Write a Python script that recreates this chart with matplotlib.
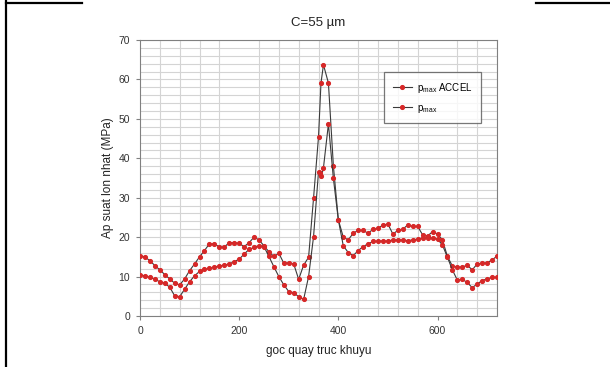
import matplotlib
matplotlib.use("Agg")
import matplotlib.pyplot as plt
from matplotlib.lines import Line2D
from matplotlib.ticker import MultipleLocator

plt.rcParams['font.family'] = ['Liberation Sans', 'DejaVu Sans']
plt.rcParams['mathtext.fontset'] = 'custom'
plt.rcParams['mathtext.rm'] = 'Liberation Sans'

# goc quay (do)
goc_accel = [0, 10, 20, 30, 40, 50, 60, 70, 80, 90, 100, 110, 120, 130, 140, 150,
             160, 170, 180, 190, 200, 210, 220, 230, 240, 250, 260, 270, 280, 290,
             300, 310, 320, 330, 340, 350, 360, 365, 370, 380, 390, 400, 410, 420,
             430, 440, 450, 460, 470, 480, 490, 500, 510, 520, 530, 540, 550, 560,
             570, 580, 590, 600, 610, 620, 630, 640, 650, 660, 670, 680, 690, 700,
             710, 720]
p_accel = [15.3, 15.0, 14.0, 12.8, 11.7, 10.5, 9.4, 8.3, 7.9, 9.4, 11.5, 13.2, 15.0,
           16.6, 18.3, 18.3, 17.5, 17.5, 18.6, 18.6, 18.4, 17.6, 18.6, 20.0, 19.3,
           17.8, 16.3, 15.1, 15.9, 13.4, 13.5, 13.2, 9.3, 12.9, 14.9, 29.9, 45.4,
           59.1, 63.7, 59.1, 38.1, 24.4, 20.0, 19.3, 21.0, 21.7, 21.7, 21.0, 22.0,
           22.2, 23.1, 23.3, 20.8, 21.7, 22.0, 23.1, 22.7, 22.7, 20.6, 20.3, 21.4,
           20.8, 19.3, 15.1, 12.7, 12.4, 12.4, 12.9, 11.7, 13.2, 13.4, 13.5, 14.2,
           15.2]

goc_pmax = [0, 10, 20, 30, 40, 50, 60, 70, 80, 90, 100, 110, 120, 130, 140, 150,
            160, 170, 180, 190, 200, 210, 220, 230, 240, 250, 260, 270, 280, 290,
            300, 310, 320, 330, 340, 350, 360, 363, 366, 370, 380, 390, 400, 410,
            420, 430, 440, 450, 460, 470, 480, 490, 500, 510, 520, 530, 540, 550,
            560, 570, 580, 590, 600, 610, 620, 630, 640, 650, 660, 670, 680, 690,
            700, 710, 720]
p_max = [10.4, 10.2, 9.8, 9.3, 8.7, 8.3, 7.3, 5.1, 4.9, 6.8, 8.7, 10.2, 11.3, 11.8,
         12.1, 12.4, 12.7, 12.9, 13.2, 13.8, 14.4, 15.7, 16.9, 17.4, 17.8, 17.6,
         15.1, 12.5, 10.0, 7.9, 6.2, 5.9, 4.9, 4.2, 10.0, 20.1, 36.6, 36.2, 35.4,
         37.6, 48.7, 34.9, 24.4, 17.8, 16.1, 15.3, 16.6, 17.6, 18.3, 18.9, 19.0,
         19.0, 19.0, 19.3, 19.3, 19.3, 19.1, 19.3, 19.5, 19.8, 19.8, 19.8, 19.5,
         18.0, 14.9, 11.7, 9.1, 9.3, 8.5, 7.2, 8.1, 9.0, 9.4, 9.8, 9.8]

fig = plt.figure(figsize=(6.1, 3.67), dpi=100)
ax = fig.add_axes([140/610, 1-316/367, 357/610, 276/367])

line_col = '#3a3a3a'
mark_col = '#d62828'
ax.plot(goc_accel, p_accel, color=line_col, lw=0.8, marker='o', ms=2.7,
        mfc=mark_col, mec=mark_col, label=r'p$_{\mathrm{max}}$ ACCEL', zorder=3)
ax.plot(goc_pmax, p_max, color=line_col, lw=0.8, marker='o', ms=2.7,
        mfc=mark_col, mec=mark_col, label=r'p$_{\mathrm{max}}$', zorder=3)

ax.set_xlim(0, 720)
ax.set_ylim(0, 70)
ax.xaxis.set_major_locator(MultipleLocator(200))
ax.xaxis.set_minor_locator(MultipleLocator(40))
ax.yaxis.set_major_locator(MultipleLocator(10))
ax.yaxis.set_minor_locator(MultipleLocator(2))
ax.grid(which='both', color='#d4d4d4', lw=0.8)
ax.xaxis.grid(False, which='major')
ax.set_axisbelow(True)
for s in ax.spines.values():
    s.set_color('#808080')
ax.tick_params(which='major', length=3, color='#808080', labelsize=7.5,
               labelcolor='#333333', pad=4)
ax.tick_params(which='minor', length=0)

ax.set_title('C=55 µm', fontsize=9.5, color='#222222', pad=10)
ax.set_xlabel('goc quay truc khuyu', fontsize=8.5, color='#222222', labelpad=7)
ax.set_ylabel('Ap suat lon nhat (MPa)', fontsize=8.5, color='#222222', labelpad=3)

leg = ax.legend(loc='upper left', bbox_to_anchor=(0.683, 0.884), fontsize=7,
                frameon=True, fancybox=False, edgecolor='#555555',
                handlelength=2.0, handletextpad=0.5, borderpad=0.9,
                labelspacing=0.8, borderaxespad=0)
leg.get_frame().set_linewidth(0.9)

# khung trang
fig.add_artist(Line2D([6/610, 6/610], [0, 1], transform=fig.transFigure,
                      color='black', lw=1.6))
fig.add_artist(Line2D([6/610, 82/610], [1-3/367, 1-3/367], transform=fig.transFigure,
                      color='black', lw=1.6))
fig.add_artist(Line2D([536/610, 1], [1-3/367, 1-3/367], transform=fig.transFigure,
                      color='black', lw=1.6))

fig.savefig('out.png', dpi=100)
